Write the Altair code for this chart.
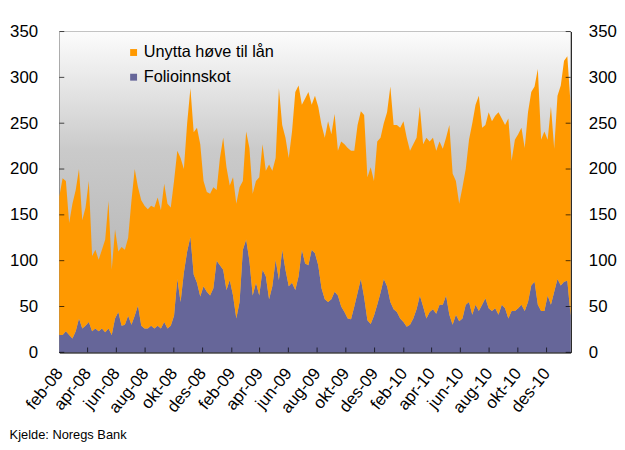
import altair as alt
import pandas as pd

# Weekly readings from the picture (billion NOK), Feb 2008 - Jan 2011
total = [170,190,187,141,162,177,200,144,158,187,
         105,112,101,112,123,165,90,134,110,115,
         112,125,165,200,180,166,160,156,160,158,
         169,155,184,162,158,187,220,212,200,
         250,288,240,245,227,187,175,173,180,177,
         212,234,202,182,191,162,180,187,241,223,
         173,187,191,227,198,205,198,212,288,248,
         234,212,241,284,291,270,277,284,270,
         280,268,248,234,252,238,260,220,230,227,
         223,220,220,248,263,259,191,202,187,230,
         234,250,262,290,248,248,245,252,234,220,
         227,234,268,227,234,230,234,220,230,
         222,234,248,195,187,162,180,200,232,250,
         270,280,245,248,262,252,258,262,255,248,
         255,209,232,238,245,223,262,284,290,309,
         232,241,232,268,222,280,291,318,323,270]

folio = [19,19,23,19,15,23,37,26,29,33,
         23,26,23,26,22,26,19,37,44,29,
         30,40,30,40,51,29,26,26,29,26,
         29,26,33,26,29,40,80,55,87,
         110,126,85,76,61,72,66,62,70,100,
         95,90,68,79,62,37,55,112,123,100,
         62,76,62,90,83,58,72,101,79,112,
         90,72,76,68,83,112,97,95,112,
         108,95,70,58,55,58,66,62,50,44,
         37,36,50,65,80,60,35,31,40,52,
         65,80,72,55,47,44,37,33,28,30,
         37,47,62,50,37,44,47,42,52,
         52,62,41,30,41,34,37,52,55,41,
         52,45,52,59,48,45,48,41,52,48,
         37,45,45,48,52,45,55,73,77,52,
         45,45,62,52,66,80,73,77,78,40]

series_names = ["Unytta høve til lån", "Folioinnskot"]
series_colors = ["#FF9900", "#666699"]
y_ticks = [0, 50, 100, 150, 200, 250, 300, 350]
x_tick_dates = ["2008-02-01", "2008-04-01", "2008-06-01", "2008-08-01", "2008-10-01", "2008-12-01",
                "2009-02-01", "2009-04-01", "2009-06-01", "2009-08-01", "2009-10-01", "2009-12-01",
                "2010-02-01", "2010-04-01", "2010-06-01", "2010-08-01", "2010-10-01", "2010-12-01"]
month_names = ['jan', 'feb', 'mar', 'apr', 'mai', 'jun', 'jul', 'aug', 'sep', 'okt', 'nov', 'des']
first_day, last_day = "2008-02-01", "2011-01-21"

dates = pd.date_range(first_day, last_day, periods=len(total)).strftime("%Y-%m-%dT%H:%M:%SZ")
rows = []
for d, t, f in zip(dates, total, folio):
    rows.append({"date": d, "serie": series_names[1], "value": f, "ord": 0})
    rows.append({"date": d, "serie": series_names[0], "value": t - f, "ord": 1})
df = pd.DataFrame(rows)

W, H = 518, 325
FONT = "Liberation Sans"

yscale = alt.Scale(domain=[0, 350], nice=False, zero=True)
xscale = alt.Scale(type="utc", domain=[alt.DateTime(year=2008, month=2, date=1, utc=True),
                                       alt.DateTime(year=2011, month=1, date=21, utc=True)])

label_expr = ("['" + "','".join(month_names) + "'][utcmonth(datum.value)] + '-' + utcFormat(datum.value, '%y')")

x_axis = alt.Axis(values=[alt.DateTime(year=int(s[:4]), month=int(s[5:7]), date=1, utc=True) for s in x_tick_dates],
                  labelExpr=label_expr, labelAngle=309, labelAlign="right", labelBaseline="middle",
                  labelFontSize=17, labelFont=FONT, labelColor="black", labelPadding=18,
                  ticks=False, grid=False, domainColor="black", labelOverlap=False, labelBound=False,
                  labelFlush=False)

bg = alt.Chart(pd.DataFrame({"k": [0]})).mark_rect(
    fill=alt.Gradient(gradient="linear",
                      stops=[alt.GradientStop(color="#fcfcfc", offset=0),
                             alt.GradientStop(color="#ebebeb", offset=0.13),
                             alt.GradientStop(color="#cacaca", offset=0.37),
                             alt.GradientStop(color="#bbbbbb", offset=0.68),
                             alt.GradientStop(color="#b4b4b4", offset=1)],
                      x1=0, x2=0, y1=0, y2=1)
).encode(x=alt.value(0), x2=alt.value(W), y=alt.value(0), y2=alt.value(H))

area = alt.Chart(df).mark_area(opacity=1, interpolate="linear").encode(
    x=alt.X("date:T", scale=xscale, title=None, axis=x_axis),
    y=alt.Y("value:Q", stack="zero", scale=yscale, title=None,
            axis=alt.Axis(orient="left", values=y_ticks, ticks=False, grid=False, labelFontSize=17,
                          labelFont=FONT, labelColor="black", labelPadding=22, domainColor="black")),
    color=alt.Color("serie:N", scale=alt.Scale(domain=series_names, range=series_colors),
                    legend=alt.Legend(orient="none", legendX=67, legendY=13, title=None,
                                      symbolType="square", symbolSize=49, symbolStrokeWidth=0,
                                      symbolOpacity=1, labelFontSize=16.5, labelFont=FONT,
                                      labelColor="black", rowPadding=8, padding=0, labelOffset=2)),
    order=alt.Order("ord:Q", sort="ascending"),
)

ytick_df = pd.DataFrame({"v": y_ticks})
left_ticks = alt.Chart(ytick_df).mark_tick(orient="horizontal", size=5, thickness=1, color="black").encode(
    y=alt.Y("v:Q", scale=yscale, axis=None), x=alt.value(2.5))
right_ticks = alt.Chart(ytick_df).mark_tick(orient="horizontal", size=5, thickness=1, color="black").encode(
    y=alt.Y("v:Q", scale=yscale, title=None,
            axis=alt.Axis(orient="right", values=y_ticks, ticks=False, grid=False, labelFontSize=17,
                          labelFont=FONT, labelColor="black", labelPadding=18, domainColor="black")),
    x=alt.value(W - 2.5))
xtick_df = pd.DataFrame({"d": x_tick_dates[1:]})
bottom_ticks = alt.Chart(xtick_df).mark_tick(orient="vertical", size=5, thickness=1, color="black").encode(
    x=alt.X("d:T", scale=xscale, title=None, axis=x_axis), y=alt.value(H - 2.5))

chart = alt.layer(bg, area, left_ticks, right_ticks, bottom_ticks).resolve_axis(y="independent").properties(
    width=W, height=H,
    padding={"left": 52, "top": 21, "right": 47, "bottom": 88},
    autosize=alt.AutoSizeParams(type="none"),
    title=alt.TitleParams("Kjelde: Noregs Bank", orient="bottom", anchor="start", frame="bounds",
                          fontSize=13, font=FONT, fontWeight="normal", color="black", offset=14),
).configure(font=FONT).configure_view(stroke="black", strokeWidth=1)

chart.save("out.html", embed_options={"renderer": "svg", "actions": False})
